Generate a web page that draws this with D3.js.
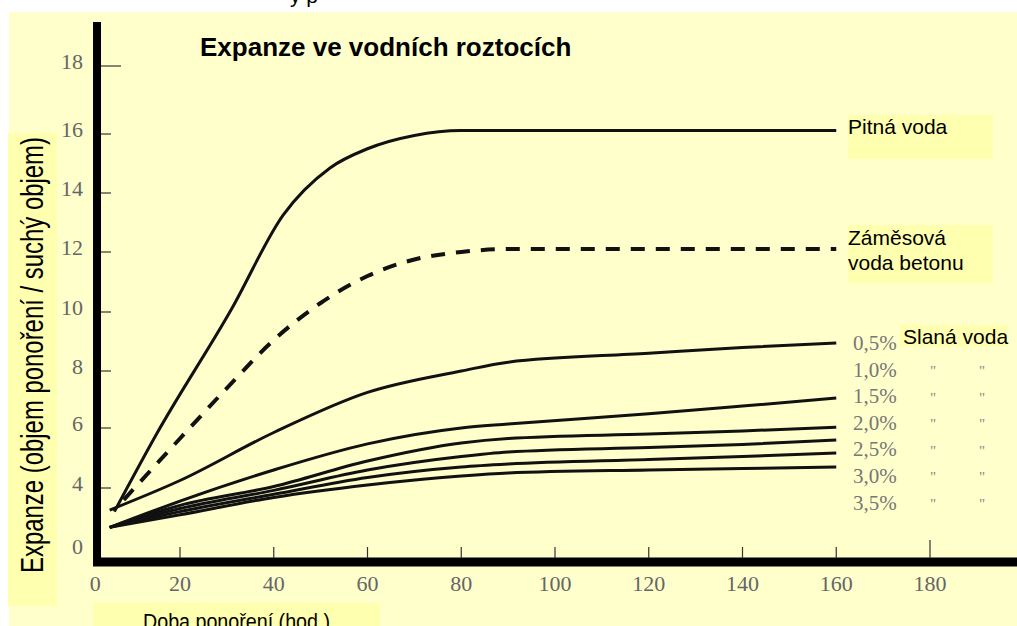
<!DOCTYPE html>
<html>
<head>
<meta charset="utf-8">
<script src="https://cdn.jsdelivr.net/npm/d3@7"></script>
<style>
  body { margin: 0; background: #fff; }
  svg { display: block; }
</style>
</head>
<body>
<div id="chart"></div>
<script>
// values
const xTicks = [20, 40, 60, 80, 100, 120, 140, 160, 180]
const yTicks = [0, 4, 6, 8, 10, 12, 14, 16, 18]

const pitnaHours = [6, 15, 31, 42, 52, 60, 70, 80, 100, 130, 160]
const pitnaValues = [2.5, 5.8, 10.1, 13.25, 14.85, 15.5, 15.95, 16.1, 16.1, 16.1, 16.1]

const betonHours = [8, 20, 30, 40, 50, 60, 70, 80, 90, 120, 160]
const betonValues = [3.25, 5.65, 7.4, 9.05, 10.3, 11.2, 11.75, 12.0, 12.1, 12.1, 12.1]

const saltHours = [5, 20, 40, 60, 80, 90, 120, 140, 160]
const salt05 = [2.6, 4.25, 5.85, 7.25, 8.0, 8.3, 8.6, 8.8, 8.95]
const salt15 = [1.5, 3.17, 4.6, 5.47, 6.0, 6.14, 6.5, 6.77, 7.05]
const salt20 = [1.5, 2.9, 4.05, 4.9, 5.5, 5.65, 5.8, 5.9, 6.03]
const salt25 = [1.5, 2.7, 3.85, 4.6, 5.05, 5.2, 5.35, 5.45, 5.6]
const salt30 = [1.5, 2.5, 3.6, 4.35, 4.7, 4.8, 4.95, 5.05, 5.17]
const salt35 = [1.5, 2.3, 3.4, 4.1, 4.4, 4.5, 4.6, 4.65, 4.7]

const saltLabels = ["0,5%", "1,0%", "1,5%", "2,0%", "2,5%", "3,0%", "3,5%"]

const svgWidth = 1017
const svgHeight = 626

let svg = d3
  .select("#chart")
  .append("svg")
  .attr("width", svgWidth)
  .attr("height", svgHeight)

// cut-off text from the slide above
svg.append("text")
  .attr("x", 290)
  .attr("y", 3)
  .attr("font-family", "Liberation Sans, Arial, sans-serif")
  .attr("font-size", 21)
  .text("ý p")

svg.append("rect")
  .attr("x", 9)
  .attr("y", 12)
  .attr("width", svgWidth - 9)
  .attr("height", svgHeight - 12)
  .attr("fill", "#ffffcc")

// the scan is slightly uneven, so the y scale is piecewise (and 0 sits where 2 would be)
let x = d3.scaleLinear().domain([0, 200]).range([86.25, 1023.75])
let y = d3.scaleLinear()
  .domain(yTicks)
  .range([551, 488, 428, 371, 312, 252, 193, 134, 66])

const serif = "Liberation Serif, Times New Roman, serif"
const sans = "Liberation Sans, Arial, sans-serif"

// label boxes
const boxFill = "#ffffb0"
svg.append("rect").attr("x", 8).attr("y", 133).attr("width", 49).attr("height", 473).attr("fill", boxFill)
svg.append("rect").attr("x", 93).attr("y", 603).attr("width", 287).attr("height", 23).attr("fill", boxFill)
svg.append("rect").attr("x", 848).attr("y", 115).attr("width", 145).attr("height", 44).attr("fill", boxFill)
svg.append("rect").attr("x", 848).attr("y", 225).attr("width", 145).attr("height", 58).attr("fill", boxFill)

// axes
svg.append("line")
  .attr("x1", 97).attr("x2", 97)
  .attr("y1", 22).attr("y2", 566)
  .attr("stroke", "#000").attr("stroke-width", 8)

svg.append("line")
  .attr("x1", 93).attr("x2", svgWidth)
  .attr("y1", 562).attr("y2", 562)
  .attr("stroke", "#000").attr("stroke-width", 9)

svg.selectAll("line.ytick")
  .data(yTicks.filter(d => d > 0))
  .enter()
  .append("line")
  .classed("ytick", true)
  .attr("x1", 101)
  .attr("x2", d => d === 18 ? 121 : 111)
  .attr("y1", d => y(d))
  .attr("y2", d => y(d))
  .attr("stroke", "#333")
  .attr("stroke-width", 1.2)

svg.selectAll("text.ylab")
  .data(yTicks)
  .enter()
  .append("text")
  .classed("ylab", true)
  .attr("x", 83)
  .attr("y", d => y(d) + 3)
  .attr("text-anchor", "end")
  .attr("font-family", serif)
  .attr("font-size", 22)
  .attr("fill", "#666")
  .text(d => d)

svg.selectAll("line.xtick")
  .data(xTicks)
  .enter()
  .append("line")
  .classed("xtick", true)
  .attr("x1", d => x(d))
  .attr("x2", d => x(d))
  .attr("y1", 558)
  .attr("y2", d => d === 180 ? 540 : 547)
  .attr("stroke", "#333")
  .attr("stroke-width", 1.2)

svg.selectAll("text.xlab")
  .data([0].concat(xTicks))
  .enter()
  .append("text")
  .classed("xlab", true)
  .attr("x", d => d === 0 ? x(d) + 9 : x(d))
  .attr("y", 591)
  .attr("text-anchor", "middle")
  .attr("font-family", serif)
  .attr("font-size", 22)
  .attr("fill", "#666")
  .text(d => d)

// curves
let line = d3.line()
  .x(d => x(d[0]))
  .y(d => y(d[1]))
  .curve(d3.curveMonotoneX)

const zip = (hs, vs) => hs.map((h, i) => [h, vs[i]])

let series = [
  { pts: zip(pitnaHours, pitnaValues), dash: null, w: 3 },
  { pts: zip(betonHours, betonValues), dash: "14,11", w: 4 },
  { pts: zip(saltHours, salt05), dash: null, w: 3 },
  { pts: zip(saltHours, salt15), dash: null, w: 3 },
  { pts: zip(saltHours, salt20), dash: null, w: 3 },
  { pts: zip(saltHours, salt25), dash: null, w: 3 },
  { pts: zip(saltHours, salt30), dash: null, w: 3 },
  { pts: zip(saltHours, salt35), dash: null, w: 3 }
]

svg.selectAll("path.curve")
  .data(series)
  .enter()
  .append("path")
  .classed("curve", true)
  .attr("d", d => line(d.pts))
  .attr("fill", "none")
  .attr("stroke", "#111")
  .attr("stroke-width", d => d.w)
  .attr("stroke-dasharray", d => d.dash)
  .attr("stroke-linejoin", "round")

// right hand labels
svg.selectAll("text.pct")
  .data(saltLabels)
  .enter()
  .append("text")
  .classed("pct", true)
  .attr("x", 853)
  .attr("y", (d, i) => 350 + i * 26.6)
  .attr("font-family", serif)
  .attr("font-size", 21)
  .attr("fill", "#777")
  .text(d => d)

let ditto = svg.selectAll("g.ditto")
  .data(saltLabels.slice(1))
  .enter()
  .append("g")
  .attr("transform", (d, i) => `translate(0, ${376 + i * 26.6})`)

ditto.append("text").attr("x", 933)
ditto.append("text").attr("x", 982)
ditto.selectAll("text")
  .attr("y", 0)
  .attr("text-anchor", "middle")
  .attr("font-family", serif)
  .attr("font-size", 15)
  .attr("fill", "#888")
  .text("\"")

svg.append("rect").attr("x", 900).attr("y", 325).attr("width", 107).attr("height", 22).attr("fill", boxFill)

svg.append("text")
  .attr("x", 903).attr("y", 344)
  .attr("font-family", sans).attr("font-size", 21)
  .text("Slaná voda")

svg.append("text")
  .attr("x", 848).attr("y", 134)
  .attr("font-family", sans).attr("font-size", 21)
  .text("Pitná voda")

let beton = svg.append("text")
  .attr("font-family", sans).attr("font-size", 21)
beton.append("tspan").attr("x", 848).attr("y", 245).text("Záměsová")
beton.append("tspan").attr("x", 848).attr("y", 270).text("voda betonu")

svg.append("text")
  .attr("x", 200).attr("y", 56)
  .attr("font-family", sans).attr("font-size", 26).attr("font-weight", "bold")
  .text("Expanze ve vodních roztocích")

svg.append("text")
  .attr("transform", "translate(43, 355) rotate(-90)")
  .attr("text-anchor", "middle")
  .attr("font-family", sans).attr("font-size", 31)
  .attr("textLength", 436)
  .attr("lengthAdjust", "spacingAndGlyphs")
  .text("Expanze (objem ponoření / suchý objem)")

svg.append("text")
  .attr("x", 143).attr("y", 629)
  .attr("font-family", sans).attr("font-size", 22)
  .attr("textLength", 187)
  .attr("lengthAdjust", "spacingAndGlyphs")
  .text("Doba ponoření (hod.)")
</script>
</body>
</html>
